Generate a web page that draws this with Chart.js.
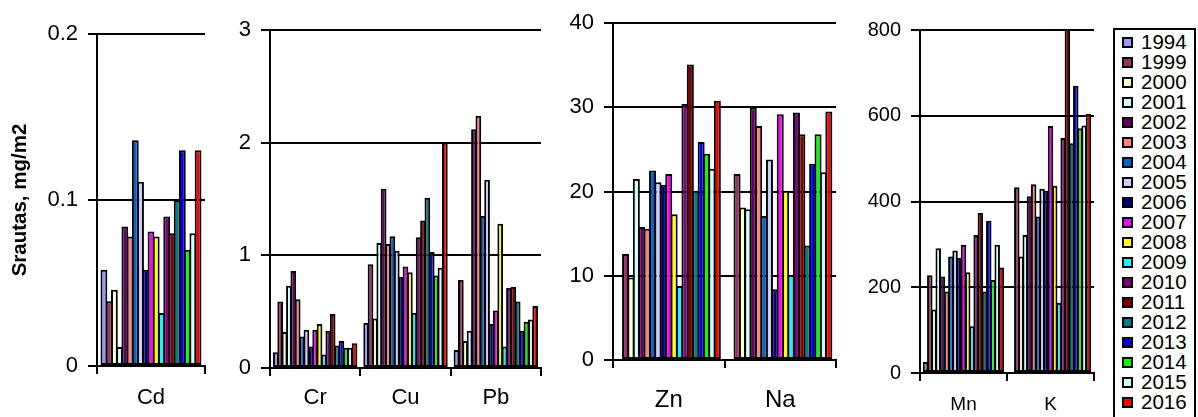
<!DOCTYPE html>
<html><head><meta charset="utf-8">
<script src="https://cdn.jsdelivr.net/npm/chart.js@4/dist/chart.umd.min.js"></script>
<style>
html,body{margin:0;padding:0;background:#fff;}
#root{position:relative;width:1198px;height:417px;overflow:hidden;font-family:"Liberation Sans",Arial,sans-serif;background:#fff;}
canvas{position:absolute;top:0;}
#legend{position:absolute;left:1113px;top:28px;width:83px;height:420px;border:2px solid #000;box-sizing:border-box;padding-top:2px;background:#fff;}
.item{height:20px;line-height:20px;font-size:20.5px;display:flex;align-items:center;color:#000;}
.sw{width:11px;height:11px;border:2px solid #000;box-sizing:border-box;margin-left:7px;margin-right:8px;flex:none;}
</style></head>
<body><div id="root">
<canvas id="p1" width="211" height="417" style="left:0px"></canvas>
<canvas id="p2" width="377" height="417" style="left:170px"></canvas>
<canvas id="p3" width="329" height="417" style="left:513px"></canvas>
<canvas id="p4" width="270" height="417" style="left:830px"></canvas>
<div id="legend"></div>
</div>
<script>
const years = ['1994','1999','2000','2001','2002','2003','2004','2005','2006','2007','2008','2009','2010','2011','2012','2013','2014','2015','2016'];
const colors = ['#9999FF','#993366','#FFFFCC','#CCFFFF','#660066','#FF8080','#0066CC','#CCCCFF','#000080','#FF00FF','#FFFF00','#00FFFF','#800080','#800000','#008080','#0000FF','#00FF00','#CCFFFF','#FF0000'];

const cats1 = ['Cd'];
const cats2 = ['Cr','Cu','Pb'];
const cats3 = ['Zn','Na'];
const cats4 = ['Mn','K'];

const cd = [0.058,0.039,0.046,0.0115,0.084,0.078,0.136,0.111,0.058,0.081,0.078,0.032,0.090,0.080,0.100,0.130,0.070,0.080,0.130];
const cr = [0.14,0.59,0.32,0.73,0.86,0.61,0.28,0.34,0.19,0.34,0.39,0.12,0.33,0.48,0.20,0.24,0.18,0.18,0.22];
const cu = [0.40,0.92,0.44,1.11,1.59,1.10,1.17,1.04,0.81,0.90,0.85,0.49,1.16,1.31,1.51,1.03,0.82,0.89,2.00];
const pb = [0.16,0.78,0.24,0.33,2.12,2.24,1.35,1.67,0.39,0.51,1.28,0.19,0.71,0.72,0.59,0.33,0.41,0.43,0.55];
const zn = [null,12.6,9.8,21.5,15.8,15.6,22.5,21.1,20.8,22.1,17.3,8.8,30.4,35.1,20.1,25.9,24.5,22.7,30.8];
const na = [null,22.1,18.1,17.9,30.0,27.8,17.1,23.8,8.4,29.2,20.1,10.1,29.4,26.8,13.6,23.3,26.8,22.3,29.5];
const mn = [25.6,228,148,291,225,190,272,286,268,299,235,109,322,373,190,355,217,299,246];
const k  = [null,433,272,322,412,440,365,430,425,576,437,163,548,812,536,670,571,577,604];

const ticks1 = [0,0.1,0.2];
const ticks2 = [0,1,2,3];
const ticks3 = [0,10,20,30,40];
const ticks4 = [0,200,400,600,800];

const yTitle = 'Srautas, mg/m2';
const FAM = '"Liberation Sans", Arial, sans-serif';

// draw datasets in index order so later years overlap earlier ones
const forwardDraw = {
  id: 'forwardDraw',
  beforeDatasetsDraw(chart) {
    const metas = chart.getSortedVisibleDatasetMetas();
    for (const m of metas) chart._drawDataset(m);
    return false;
  }
};

function makePanel(id, cats, series, ticks, o) {
  const datasets = years.map((y, i) => ({
    label: y,
    data: series.map(s => s[i]),
    backgroundColor: colors[i],
    borderColor: '#000',
    borderWidth: 2,
    borderSkipped: false,
    categoryPercentage: 0.92,
    barPercentage: 1.3
  }));
  return new Chart(document.getElementById(id), {
    type: 'bar',
    data: { labels: cats, datasets },
    options: {
      responsive: false,
      animation: false,
      devicePixelRatio: 1,
      layout: { padding: { top: o.top, right: o.padRight, left: 0, bottom: 0 } },
      plugins: { legend: { display: false }, tooltip: { enabled: false } },
      scales: {
        x: {
          grid: { offset: true, drawOnChartArea: false, drawTicks: true, tickLength: 8, color: '#000', lineWidth: 2 },
          border: { display: true, color: '#000', width: 2 },
          ticks: { color: '#000', font: { family: FAM, size: o.xFont }, padding: o.xPad, maxRotation: 0, autoSkip: false },
          afterFit: s => { s.height = o.xH; }
        },
        y: {
          min: ticks[0], max: ticks[ticks.length - 1],
          afterBuildTicks: s => { s.ticks = ticks.map(v => ({ value: v })); },
          grid: { color: '#000', lineWidth: 2, tickLength: 9, drawTicks: true },
          border: { display: true, color: '#000', width: 2 },
          ticks: { color: '#000', font: { family: FAM, size: o.yFont }, padding: 10, callback: v => String(v) },
          title: o.title ? { display: true, text: o.title, color: '#000', font: { family: FAM, size: 20.5, weight: 'bold' }, padding: { top: 8, bottom: 0 } } : { display: false },
          afterFit: s => { s.width = o.yW; }
        }
      }
    },
    plugins: [forwardDraw]
  });
}

makePanel('p1', cats1, [cd], ticks1, { top: 34, padRight: 6, yW: 97, xH: 417 - 366, xFont: 22, xPad: 11, yFont: 22, title: yTitle });
makePanel('p2', cats2, [cr, cu, pb], ticks2, { top: 30, padRight: 6, yW: 100, xH: 417 - 368, xFont: 22, xPad: 9, yFont: 22 });
makePanel('p3', cats3, [zn, na], ticks3, { top: 23, padRight: 6, yW: 100, xH: 417 - 360, xFont: 24, xPad: 18, yFont: 22 });
makePanel('p4', cats4, [mn, k], ticks4, { top: 30, padRight: 6, yW: 90, xH: 417 - 373, xFont: 19, xPad: 12, yFont: 20 });

const lg = document.getElementById('legend');
years.forEach((y, i) => {
  const row = document.createElement('div');
  row.className = 'item';
  const sw = document.createElement('span');
  sw.className = 'sw';
  sw.style.background = colors[i];
  const t = document.createElement('span');
  t.textContent = y;
  row.appendChild(sw); row.appendChild(t);
  lg.appendChild(row);
});
</script>
</body></html>
